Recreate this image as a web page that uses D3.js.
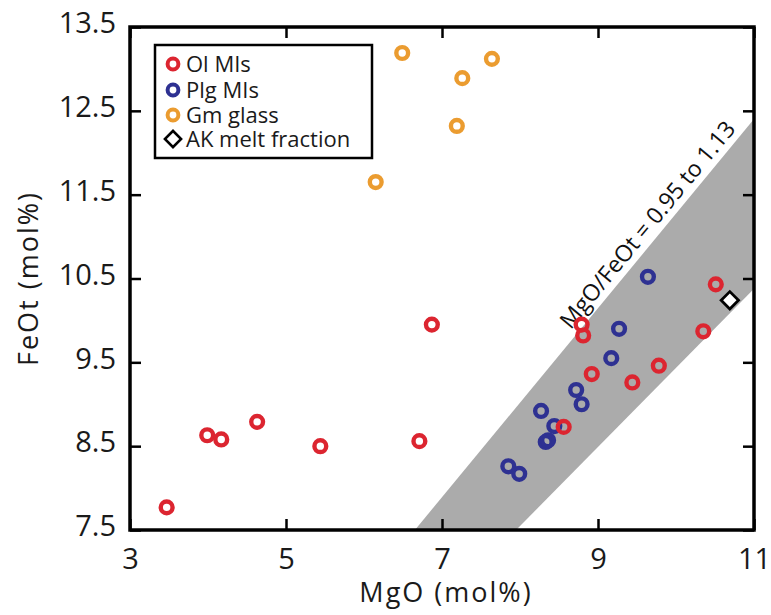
<!DOCTYPE html>
<html>
<head>
<meta charset="utf-8">
<script src="https://cdn.jsdelivr.net/npm/d3@7"></script>
<style>
body { margin: 0; background: #ffffff; }
svg { display: block; font-family: "Open Sans", sans-serif; }
</style>
</head>
<body>
<svg id="chart" width="771" height="615"></svg>
<script>
// values
var olMgO  = [3.47, 3.99, 4.17, 4.63, 5.44, 6.71, 6.87, 8.56, 8.79, 8.81, 8.92, 9.44, 9.78, 10.35, 10.51];
var olFeOt = [7.77, 8.63, 8.58, 8.79, 8.50, 8.56, 9.95, 8.73, 9.95, 9.82, 9.36, 9.26, 9.46, 9.87, 10.43];

var plgMgO  = [9.64, 9.27, 9.17, 8.72, 8.79, 8.27, 8.44, 8.33, 8.36, 7.85, 7.99];
var plgFeOt = [10.52, 9.90, 9.55, 9.17, 9.00, 8.92, 8.74, 8.55, 8.57, 8.26, 8.17];

var gmMgO  = [6.49, 7.26, 7.64, 7.19, 6.15];
var gmFeOt = [13.19, 12.89, 13.12, 12.32, 11.65];

var akMgO  = [10.69];
var akFeOt = [10.24];

// shaded band edges as MgO/FeOt ratio (as drawn)
var bandRatio = [0.887, 1.06];
var bandLabel = "MgO/FeOt = 0.95 to 1.13";

var xTickVals = [3, 5, 7, 9, 11];
var yTickVals = [7.5, 8.5, 9.5, 10.5, 11.5, 12.5, 13.5];

var legendNames = ["Ol MIs", "Plg MIs", "Gm glass", "AK melt fraction"];

var COL_OL = "#dc2530";
var COL_PLG = "#2e3192";
var COL_GM = "#eb9c30";
var COL_BAND = "#ababab";

var LEFT = 130, RIGHT = 754, TOP = 27, BOTTOM = 530;
var TICK_LEN = 11;

var svg = d3.select("#chart");

var xScale = d3.scaleLinear().domain([3, 11]).range([LEFT, RIGHT]);
var yScale = d3.scaleLinear().domain([7.5, 13.5]).range([BOTTOM, TOP]);

function zip(xs, ys) {
    return xs.map(function(d, i) { return {x: d, y: ys[i]}; });
}

// clip for the band
svg.append("defs").append("clipPath")
    .attr("id", "plotClip")
    .append("rect")
    .attr("x", LEFT).attr("y", TOP)
    .attr("width", RIGHT - LEFT).attr("height", BOTTOM - TOP);

var bandMax = 12;
var bandPts = [
    [0, 0],
    [bandMax, bandMax / bandRatio[0]],
    [bandMax, bandMax / bandRatio[1]]
];

svg.append("path")
    .attr("clip-path", "url(#plotClip)")
    .attr("d", d3.line().x(d => xScale(d[0])).y(d => yScale(d[1]))(bandPts) + "Z")
    .style("fill", COL_BAND);

// band label along the upper edge
var lx1 = 7, lx2 = 11;
var ang = Math.atan2(yScale(lx2 / bandRatio[0]) - yScale(lx1 / bandRatio[0]),
                     xScale(lx2) - xScale(lx1)) * 180 / Math.PI;
var labX = 8.72;
svg.append("text")
    .attr("transform", "translate(" + xScale(labX) + "," + yScale(labX / bandRatio[0]) + ") rotate(" + ang + ")")
    .attr("text-anchor", "start")
    .attr("dy", -7)
    .style("font-size", "23px")
    .style("fill", "#111")
    .text(bandLabel);

// points
function draw_circles(data, col) {
    svg.append("g")
        .selectAll("circle")
        .data(data)
        .enter()
        .append("circle")
        .attr("cx", d => xScale(d.x))
        .attr("cy", d => yScale(d.y))
        .attr("r", 5.9)
        .style("fill", "none")
        .style("stroke", col)
        .style("stroke-width", 4.4);
}

draw_circles(zip(gmMgO, gmFeOt), COL_GM);
draw_circles(zip(plgMgO, plgFeOt), COL_PLG);
draw_circles(zip(olMgO, olFeOt), COL_OL);

var diamond = d3.symbol().type(d3.symbolSquare).size(150);
svg.append("g")
    .selectAll("path")
    .data(zip(akMgO, akFeOt))
    .enter()
    .append("path")
    .attr("d", diamond)
    .attr("transform", d => "translate(" + xScale(d.x) + "," + yScale(d.y) + ") rotate(45)")
    .style("fill", "white")
    .style("stroke", "black")
    .style("stroke-width", 2.8);

// axes, ticks inward on all four sides
var axW = 3.5;
function style_axis(g) {
    g.select(".domain").remove();
    g.selectAll(".tick line").style("stroke", "black").style("stroke-width", 2.5);
    g.selectAll("text").style("font-size", "29px").style("fill", "#1a1a1a")
        .style("font-family", "Open Sans, sans-serif");
}

svg.append("g")
    .attr("transform", "translate(0," + BOTTOM + ")")
    .call(d3.axisBottom(xScale).tickValues(xTickVals).tickSizeInner(-TICK_LEN).tickSizeOuter(0).tickPadding(18))
    .call(style_axis);

svg.append("g")
    .attr("transform", "translate(0," + TOP + ")")
    .call(d3.axisTop(xScale).tickValues(xTickVals).tickSizeInner(-TICK_LEN).tickSizeOuter(0).tickFormat(""))
    .call(style_axis);

svg.append("g")
    .attr("transform", "translate(" + LEFT + ",0)")
    .call(d3.axisLeft(yScale).tickValues(yTickVals).tickSizeInner(-TICK_LEN).tickSizeOuter(0)
          .tickPadding(14).tickFormat(d3.format(".1f")))
    .call(style_axis)
    .selectAll("text").attr("dy", "0.2em");

svg.append("g")
    .attr("transform", "translate(" + RIGHT + ",0)")
    .call(d3.axisRight(yScale).tickValues(yTickVals).tickSizeInner(-TICK_LEN).tickSizeOuter(0).tickFormat(""))
    .call(style_axis);

svg.append("rect")
    .attr("x", LEFT).attr("y", TOP)
    .attr("width", RIGHT - LEFT).attr("height", BOTTOM - TOP)
    .style("fill", "none")
    .style("stroke", "black")
    .style("stroke-width", axW);

// axis titles
svg.append("text")
    .attr("x", (LEFT + RIGHT) / 2 + 4)
    .attr("y", 602)
    .attr("text-anchor", "middle")
    .style("font-size", "27px")
    .style("letter-spacing", "2px")
    .style("fill", "#1a1a1a")
    .text("MgO (mol%)");

svg.append("text")
    .attr("transform", "translate(38," + ((TOP + BOTTOM) / 2) + ") rotate(-90)")
    .attr("text-anchor", "middle")
    .style("font-size", "27px")
    .style("letter-spacing", "2px")
    .style("fill", "#1a1a1a")
    .text("FeOt (mol%)");

// legend
function add_legend() {
    var lg = svg.append("g");
    lg.append("rect")
        .attr("x", 155).attr("y", 45)
        .attr("width", 217).attr("height", 113)
        .style("fill", "white")
        .style("stroke", "black")
        .style("stroke-width", 2.5);

    var cols = [COL_OL, COL_PLG, COL_GM, null];
    var rowY = [64, 90, 115, 139];

    legendNames.forEach(function(name, i) {
        if (cols[i]) {
            lg.append("circle")
                .attr("cx", 173).attr("cy", rowY[i])
                .attr("r", 5.4)
                .style("fill", "none")
                .style("stroke", cols[i])
                .style("stroke-width", 4);
        } else {
            lg.append("path")
                .attr("d", d3.symbol().type(d3.symbolSquare).size(130))
                .attr("transform", "translate(173," + rowY[i] + ") rotate(45)")
                .style("fill", "white")
                .style("stroke", "black")
                .style("stroke-width", 2.6);
        }
        lg.append("text")
            .attr("x", 186).attr("y", rowY[i])
            .attr("dy", "0.36em")
            .style("font-size", "22px")
            .style("fill", "#1a1a1a")
            .text(name);
    });
}

add_legend();
</script>
</body>
</html>
